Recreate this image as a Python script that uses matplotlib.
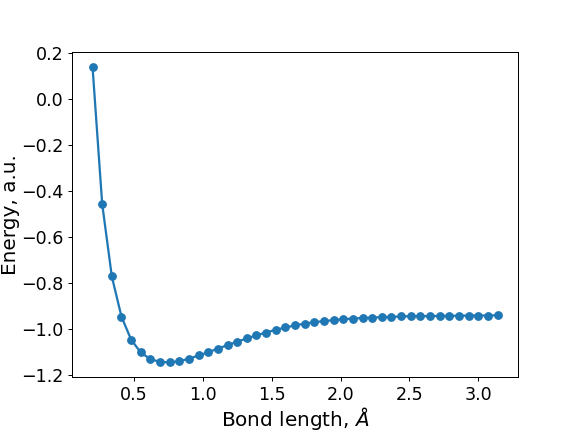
import matplotlib
matplotlib.use('Agg')
import matplotlib.pyplot as plt

# bond lengths (Angstrom) and ground state energies (a.u.)
bond_lengths = [0.20, 0.27, 0.34, 0.41, 0.48, 0.55, 0.62, 0.69, 0.76, 0.83,
                0.90, 0.97, 1.04, 1.11, 1.18, 1.25, 1.32, 1.39, 1.46, 1.53,
                1.60, 1.67, 1.74, 1.81, 1.88, 1.95, 2.02, 2.09, 2.16, 2.23,
                2.30, 2.37, 2.44, 2.51, 2.58, 2.65, 2.72, 2.79, 2.86, 2.93,
                3.00, 3.07, 3.14]
energies = [0.140, -0.456, -0.772, -0.947, -1.047, -1.103, -1.132, -1.144, -1.146, -1.141,
            -1.130, -1.116, -1.102, -1.086, -1.071, -1.056, -1.042, -1.028, -1.016, -1.004,
            -0.994, -0.985, -0.977, -0.971, -0.966, -0.962, -0.958, -0.955, -0.953, -0.951,
            -0.949, -0.948, -0.946, -0.945, -0.945, -0.944, -0.944, -0.943, -0.943, -0.942,
            -0.942, -0.942, -0.941]

plt.figure(figsize=(6.4, 4.8), dpi=90)
plt.subplots_adjust(left=0.1255, right=0.899, top=0.879, bottom=0.127)
plt.plot(bond_lengths, energies, 'o-', linewidth=1.8)
plt.xlabel(r'Bond length, $\AA$', fontsize=16, labelpad=1)
plt.ylabel('Energy, a.u.', fontsize=16, labelpad=1)
plt.xticks(fontsize=14)
plt.yticks(fontsize=14)
plt.savefig('out.png')
plt.close()
